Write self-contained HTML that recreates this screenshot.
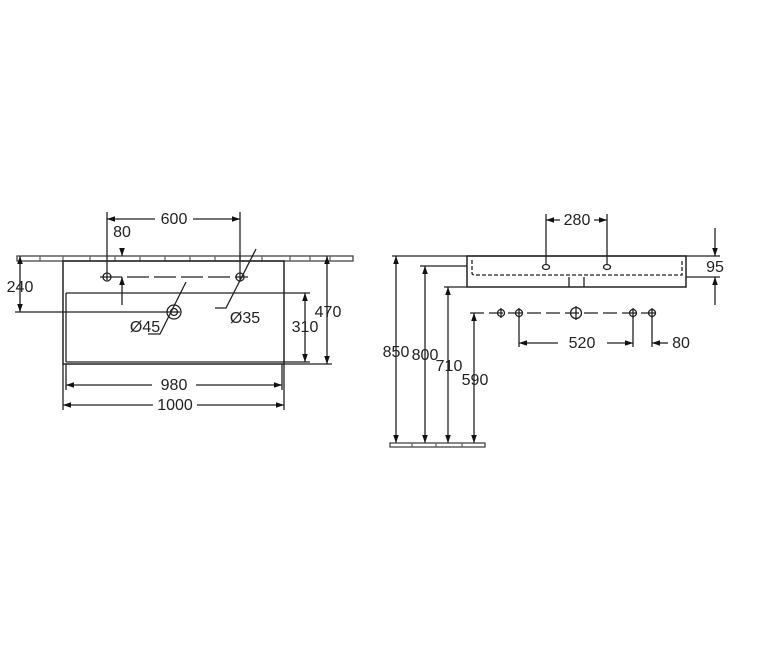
<!DOCTYPE html>
<html><head><meta charset="utf-8"><style>
html,body{margin:0;padding:0;background:#fff;}
svg{display:block;}
text{font-family:"Liberation Sans",sans-serif;font-size:16px;fill:#222;}
</style></head><body>
<svg width="780" height="650" viewBox="0 0 780 650" xmlns="http://www.w3.org/2000/svg">
<defs>
<marker id="a" viewBox="0 0 10 10" refX="10" refY="5" markerWidth="8" markerHeight="8" orient="auto-start-reverse" markerUnits="userSpaceOnUse">
<path d="M0,1.5 L10,5 L0,8.5z" fill="#111"/></marker>
</defs>
<g stroke="#222" stroke-width="1.3" fill="none">
<!-- LEFT VIEW -->
<rect x="17" y="256" width="336" height="5" stroke="#444"/>
<path d="M40 256v5M63 256v5M90 256v5M115 256v5M140 256v5M165 256v5M190 256v5M215 256v5M240 256v5M262 256v5M290 256v5M310 256v5M330 256v5" stroke="#666"/>
<rect x="63" y="261" width="221" height="103" stroke-width="1.5"/>
<path d="M66 293H310M66 362H310M66 293V362"/>
<!-- 600 -->
<path d="M107 219H155M193 219H240" marker-start="url(#a)" marker-end="url(#a)"/>
<line x1="107" y1="212" x2="107" y2="280"/>
<line x1="240" y1="212" x2="240" y2="280"/>
<circle cx="107" cy="277" r="4"/><circle cx="240" cy="277" r="4"/>
<line x1="100" y1="277" x2="248" y2="277" stroke-dasharray="22,5"/>
<!-- 80 -->
<line x1="122" y1="248" x2="122" y2="256" marker-end="url(#a)"/>
<line x1="122" y1="305" x2="122" y2="277" marker-end="url(#a)"/>
<!-- 240 -->
<line x1="20" y1="256" x2="20" y2="312" marker-start="url(#a)" marker-end="url(#a)"/>
<line x1="15" y1="312" x2="180" y2="312"/>
<circle cx="174" cy="312" r="7"/><circle cx="174" cy="312" r="3.5"/>
<path d="M186 282L160 334H148" />
<path d="M256 249L226 308H215"/>
<!-- 310 / 470 -->
<line x1="284" y1="364" x2="332" y2="364"/>
<line x1="305" y1="293" x2="305" y2="362" marker-start="url(#a)" marker-end="url(#a)"/>
<line x1="327" y1="256" x2="327" y2="364" marker-start="url(#a)" marker-end="url(#a)"/>
<!-- 980 / 1000 -->
<line x1="66" y1="364" x2="66" y2="390"/>
<line x1="282" y1="364" x2="282" y2="390"/>
<line x1="63" y1="364" x2="63" y2="410"/>
<line x1="284" y1="364" x2="284" y2="410"/>
<path d="M66 385H152M196 385H282" marker-start="url(#a)" marker-end="url(#a)"/>
<path d="M63 405H153M197 405H284" marker-start="url(#a)" marker-end="url(#a)"/>

<!-- RIGHT VIEW -->
<rect x="467" y="256" width="219" height="31" stroke-width="1.5"/>
<path d="M472 260V273Q472 275 475 275H682V260" stroke-dasharray="4,2"/>
<path d="M569 277V287M584 277V287"/>
<line x1="392" y1="256" x2="720" y2="256"/>
<line x1="686" y1="277" x2="720" y2="277"/>
<line x1="420" y1="266" x2="467" y2="266"/>
<line x1="444" y1="287" x2="467" y2="287"/>
<ellipse cx="546" cy="267" rx="3.5" ry="2.5"/><ellipse cx="607" cy="267" rx="3.5" ry="2.5"/>
<line x1="546" y1="214" x2="546" y2="264"/><line x1="607" y1="214" x2="607" y2="264"/>
<path d="M546 220H560M594 220H607" marker-start="url(#a)" marker-end="url(#a)"/>
<line x1="715" y1="228" x2="715" y2="256" marker-end="url(#a)"/>
<line x1="715" y1="305" x2="715" y2="277" marker-end="url(#a)"/>
<line x1="470" y1="313" x2="660" y2="313" stroke-dasharray="14,5"/>
<circle cx="501" cy="313" r="3.5"/><circle cx="519" cy="313" r="3.5"/>
<circle cx="576" cy="313" r="5.5"/><circle cx="633" cy="313" r="3.5"/><circle cx="652" cy="313" r="3.5"/>
<path d="M501 308v10M519 308v10M576 306v14M633 308v10M652 308v10"/>
<line x1="519" y1="317" x2="519" y2="347"/><line x1="633" y1="317" x2="633" y2="347"/><line x1="652" y1="317" x2="652" y2="347"/>
<path d="M519 343H558M607 343H633" marker-start="url(#a)" marker-end="url(#a)"/>
<line x1="668" y1="343" x2="652" y2="343" marker-end="url(#a)"/>
<line x1="396" y1="256" x2="396" y2="443" marker-start="url(#a)" marker-end="url(#a)"/>
<line x1="425" y1="266" x2="425" y2="443" marker-start="url(#a)" marker-end="url(#a)"/>
<line x1="448" y1="287" x2="448" y2="443" marker-start="url(#a)" marker-end="url(#a)"/>
<line x1="474" y1="313" x2="474" y2="443" marker-start="url(#a)" marker-end="url(#a)"/>
<rect x="390" y="443" width="95" height="4" stroke="#444"/>
<path d="M412 443v4M436 443v4M462 443v4" stroke="#666"/>
</g>
<g>
<text x="174" y="224" text-anchor="middle">600</text>
<text x="122" y="237" text-anchor="middle">80</text>
<text x="20" y="292" text-anchor="middle">240</text>
<text x="145" y="332" text-anchor="middle">Ø45</text>
<text x="245" y="323" text-anchor="middle">Ø35</text>
<text x="305" y="332" text-anchor="middle">310</text>
<text x="328" y="317" text-anchor="middle">470</text>
<text x="174" y="390" text-anchor="middle">980</text>
<text x="175" y="410" text-anchor="middle">1000</text>
<text x="577" y="225" text-anchor="middle">280</text>
<text x="715" y="272" text-anchor="middle">95</text>
<text x="582" y="348" text-anchor="middle">520</text>
<text x="681" y="348" text-anchor="middle">80</text>
<text x="396" y="357" text-anchor="middle">850</text>
<text x="425" y="360" text-anchor="middle">800</text>
<text x="449" y="371" text-anchor="middle">710</text>
<text x="475" y="385" text-anchor="middle">590</text>
</g>
</svg>
</body></html>
